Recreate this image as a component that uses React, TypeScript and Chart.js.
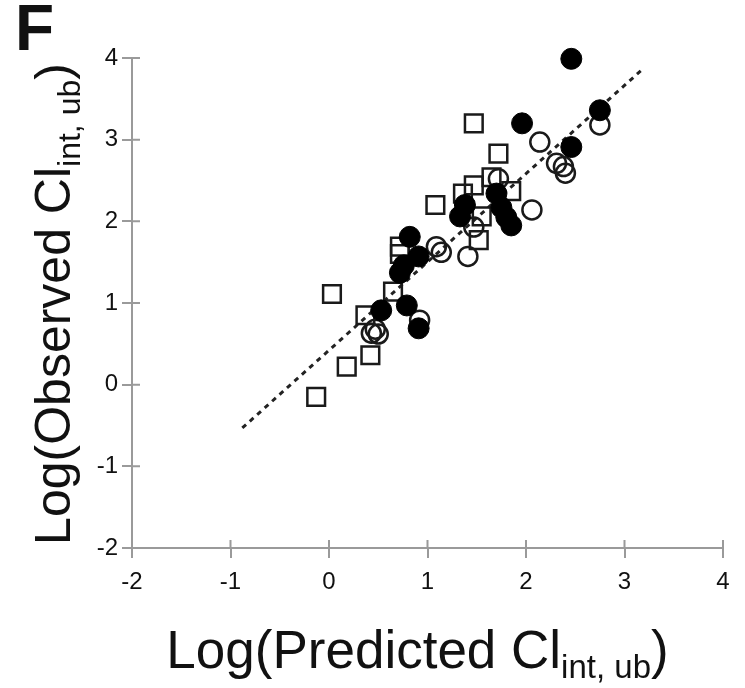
import React, { useEffect, useRef } from "react";
import { Chart, registerables } from "chart.js";

Chart.register(...registerables);

// Log(predicted) vs log(observed) intrinsic unbound clearance, three compound groups
const filledPredicted = [0.53, 0.79, 0.91, 0.72, 0.76, 0.82, 0.91, 1.33, 1.38, 1.7, 1.75, 1.85, 1.8, 1.96, 2.46, 2.46, 2.75];
const filledObserved = [0.91, 0.97, 0.69, 1.37, 1.46, 1.81, 1.57, 2.06, 2.2, 2.34, 2.17, 1.95, 2.05, 3.2, 2.91, 3.99, 3.36];

const openPredicted = [0.43, 0.5, 0.47, 0.92, 1.09, 1.14, 1.41, 1.47, 1.72, 2.06, 2.14, 2.31, 2.38, 2.4, 2.75];
const openObserved = [0.63, 0.62, 0.68, 0.79, 1.69, 1.62, 1.57, 1.93, 2.52, 2.14, 2.97, 2.71, 2.67, 2.59, 3.18];

const squarePredicted = [-0.13, 0.18, 0.42, 0.37, 0.03, 0.65, 0.72, 0.72, 1.08, 1.36, 1.47, 1.65, 1.85, 1.72, 1.47, 1.52, 1.55];
const squareObserved = [-0.15, 0.22, 0.36, 0.85, 1.11, 1.14, 1.69, 1.6, 2.2, 2.34, 2.44, 2.54, 2.37, 2.83, 3.2, 1.77, 2.06];

// dotted trend line end points
const linePredicted = [-0.88, 3.19];
const lineObserved = [-0.53, 3.87];

const xTicks = [-2, -1, 0, 1, 2, 3, 4];
const yTicks = [-2, -1, 0, 1, 2, 3, 4];

const FONT = "'Liberation Sans', Arial, Helvetica, sans-serif";
const AXIS_COLOR = "#9a9a9a";
const INK = "#111";

const zip = (xs: number[], ys: number[]) => xs.map((x, i) => ({ x, y: ys[i] }));

// Draws a title made of main text, a subscript and a closing part
function drawSubTitle(
  ctx: CanvasRenderingContext2D,
  main: string,
  sub: string,
  tail: string,
  mainSize: number,
  subSize: number,
  subDrop: number
) {
  ctx.font = `${mainSize}px ${FONT}`;
  const wMain = ctx.measureText(main).width;
  const wTail = ctx.measureText(tail).width;
  ctx.font = `${subSize}px ${FONT}`;
  const wSub = ctx.measureText(sub).width;
  const total = wMain + wSub + wTail;
  let x = -total / 2;
  ctx.textAlign = "left";
  ctx.textBaseline = "alphabetic";
  ctx.font = `${mainSize}px ${FONT}`;
  ctx.fillText(main, x, 0);
  x += wMain;
  ctx.font = `${subSize}px ${FONT}`;
  ctx.fillText(sub, x, subDrop);
  x += wSub;
  ctx.font = `${mainSize}px ${FONT}`;
  ctx.fillText(tail, x, 0);
}

const decorations = {
  id: "decorations",
  afterDraw(chart: any) {
    const { ctx, chartArea, scales } = chart;
    const xs = scales.x;
    const ys = scales.y;
    ctx.save();
    // inner halves of the crossing tick marks
    ctx.strokeStyle = AXIS_COLOR;
    ctx.lineWidth = 2;
    ctx.beginPath();
    xTicks.forEach((v) => {
      const px = xs.getPixelForValue(v);
      ctx.moveTo(px, chartArea.bottom);
      ctx.lineTo(px, chartArea.bottom - 8);
    });
    yTicks.forEach((v) => {
      const py = ys.getPixelForValue(v);
      ctx.moveTo(chartArea.left, py);
      ctx.lineTo(chartArea.left + 8, py);
    });
    ctx.stroke();

    ctx.fillStyle = INK;
    // panel letter
    ctx.font = `bold 64px ${FONT}`;
    ctx.textAlign = "left";
    ctx.textBaseline = "alphabetic";
    ctx.fillText("F", 15, 50);

    // x axis title
    ctx.save();
    ctx.translate((chartArea.left + chartArea.right) / 2 - 10, 668);
    drawSubTitle(ctx, "Log(Predicted Cl", "int, ub", ")", 53, 33, 10);
    ctx.restore();

    // y axis title
    ctx.save();
    ctx.translate(70, (chartArea.top + chartArea.bottom) / 2 + 1);
    ctx.rotate(-Math.PI / 2);
    drawSubTitle(ctx, "Log(Observed Cl", "int, ub", ")", 50, 32, 10);
    ctx.restore();

    ctx.restore();
  },
};

export default function App() {
  const canvasRef = useRef<HTMLCanvasElement | null>(null);

  useEffect(() => {
    const canvas = canvasRef.current;
    if (!canvas) return;
    const chart = new Chart(canvas, {
      type: "scatter",
      data: {
        datasets: [
          {
            label: "filled",
            data: zip(filledPredicted, filledObserved),
            pointStyle: "circle",
            pointRadius: 10.5,
            backgroundColor: "#000",
            borderColor: "#000",
            borderWidth: 1,
            clip: false,
            order: 0,
          },
          {
            label: "open",
            data: zip(openPredicted, openObserved),
            pointStyle: "circle",
            pointRadius: 9.5,
            backgroundColor: "rgba(0,0,0,0)",
            borderColor: "#1a1a1a",
            borderWidth: 2.5,
            clip: false,
            order: 1,
          },
          {
            label: "square",
            data: zip(squarePredicted, squareObserved),
            pointStyle: "rect",
            pointRadius: 12.5,
            backgroundColor: "rgba(0,0,0,0)",
            borderColor: "#1a1a1a",
            borderWidth: 2.5,
            clip: false,
            order: 2,
          },
          {
            type: "line",
            label: "trend",
            data: zip(linePredicted, lineObserved),
            borderColor: "#222",
            borderWidth: 3,
            borderDash: [5, 5],
            pointRadius: 0,
            fill: false,
            clip: false,
            order: 3,
          } as any,
        ],
      },
      options: {
        responsive: false,
        animation: false,
        layout: { padding: { top: 58, right: 22, left: 0, bottom: 0 } },
        plugins: {
          legend: { display: false },
          tooltip: { enabled: false },
        },
        scales: {
          x: {
            type: "linear",
            min: -2,
            max: 4,
            afterFit: (s: any) => {
              s.height = 140;
            },
            afterBuildTicks: (s: any) => {
              s.ticks = xTicks.map((v) => ({ value: v }));
            },
            ticks: {
              color: INK,
              font: { family: FONT, size: 24 },
              padding: 10,
              maxRotation: 0,
              callback: (v: any) => String(v),
            },
            grid: {
              display: true,
              drawOnChartArea: false,
              drawTicks: true,
              tickLength: 10,
              color: AXIS_COLOR,
              lineWidth: 2,
            },
            border: { display: true, color: AXIS_COLOR, width: 2 },
          },
          y: {
            type: "linear",
            min: -2,
            max: 4,
            afterFit: (s: any) => {
              s.width = 132;
            },
            afterBuildTicks: (s: any) => {
              s.ticks = yTicks.map((v) => ({ value: v }));
            },
            ticks: {
              color: INK,
              font: { family: FONT, size: 24 },
              padding: 4,
              callback: (v: any) => String(v),
            },
            grid: {
              display: true,
              drawOnChartArea: false,
              drawTicks: true,
              tickLength: 10,
              color: AXIS_COLOR,
              lineWidth: 2,
            },
            border: { display: true, color: AXIS_COLOR, width: 2 },
          },
        },
      },
      plugins: [decorations],
    });
    return () => chart.destroy();
  }, []);

  return (
    <div style={{ position: "absolute", left: 0, top: 0, width: 745, height: 688, background: "#fff" }}>
      <canvas ref={canvasRef} width={745} height={688} />
    </div>
  );
}
